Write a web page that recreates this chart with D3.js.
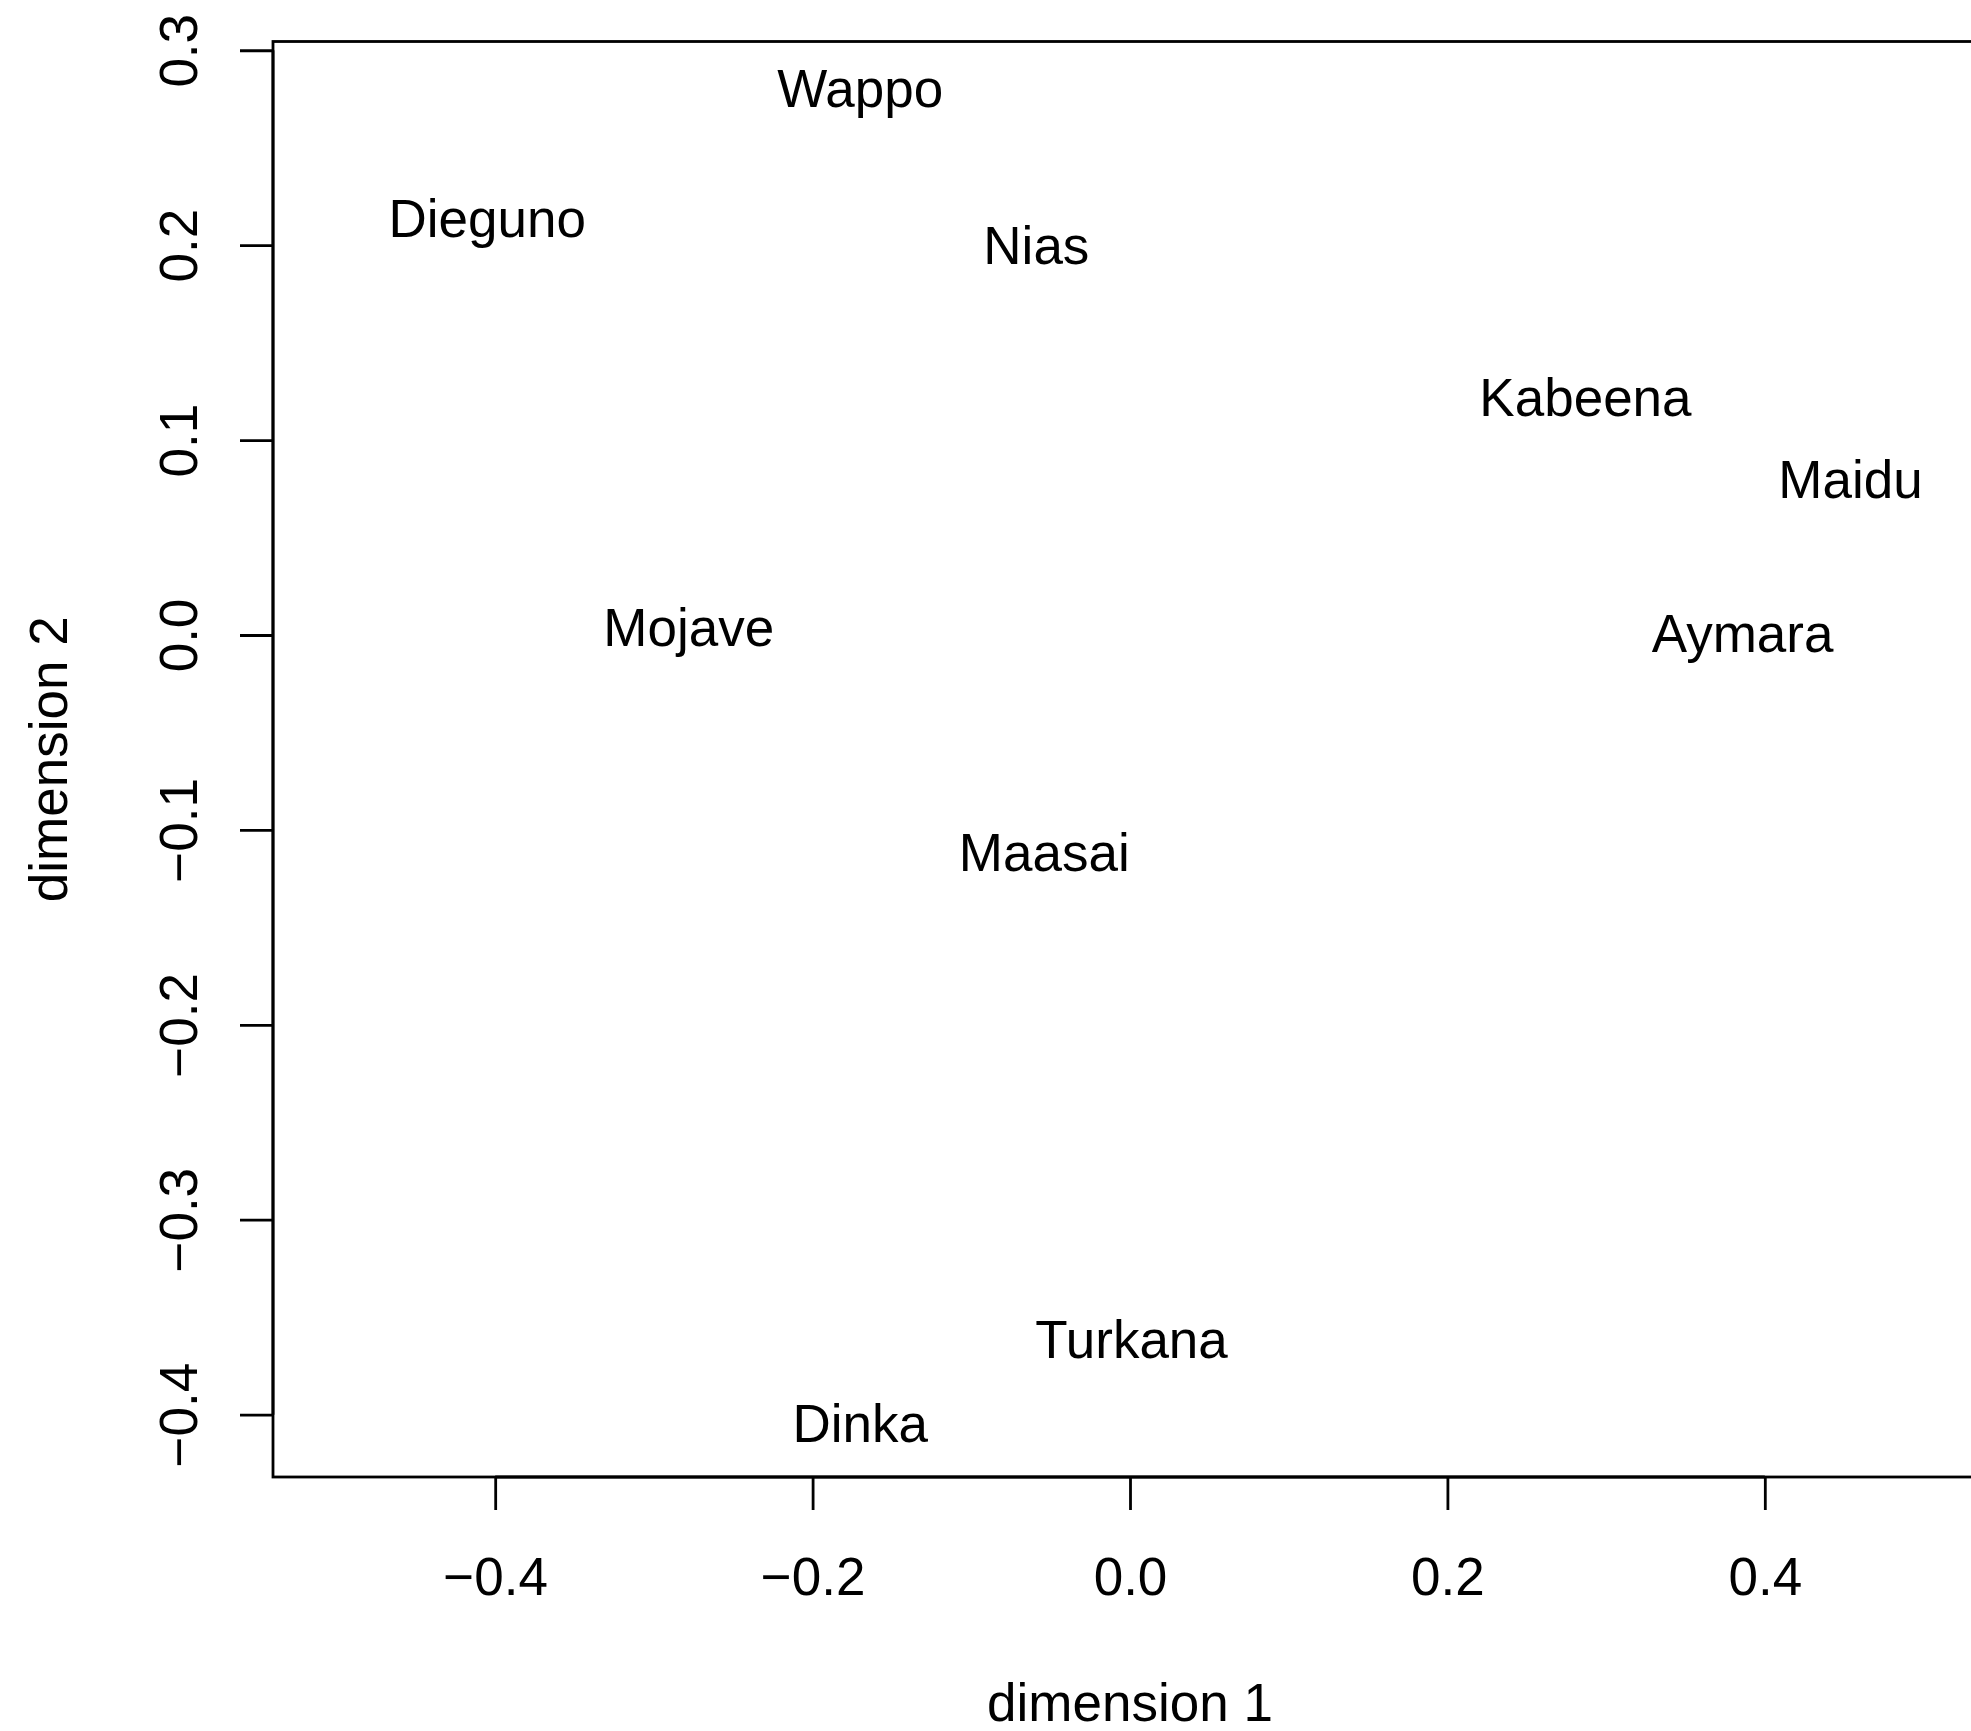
<!DOCTYPE html>
<html><head><meta charset="utf-8">
<script src="https://cdn.jsdelivr.net/npm/d3@7"></script>
<style>
html,body{margin:0;padding:0;background:#fff;}
svg text{font-family:"Liberation Sans",Arial,Helvetica,sans-serif;fill:#000;}
</style></head>
<body>
<script>
const labels = ["Wappo","Dieguno","Nias","Kabeena","Maidu","Aymara","Mojave","Maasai","Turkana","Dinka"];
const dim1 = [-0.170,-0.405,-0.059,0.287,0.454,0.386,-0.278,-0.054,0.001,-0.170];
const dim2 = [0.279,0.212,0.198,0.120,0.078,-0.001,0.002,-0.113,-0.363,-0.406];
const xTicks = [-0.4,-0.2,0.0,0.2,0.4];
const yTicks = [0.3,0.2,0.1,0.0,-0.1,-0.2,-0.3,-0.4];
const xTitle = "dimension 1", yTitle = "dimension 2";

(function(){
const W = 1971, H = 1731;
const pL = 273, pR = 1987, pT = 41.5, pB = 1477;
const fs = 53;
const svg = d3.select("body").append("svg").attr("width",W).attr("height",H);

const x = d3.scaleLinear().domain([-0.54,0.54]).range([pL,pR]);
const y = d3.scaleLinear().domain([-0.4320,0.3045]).range([pB,pT]);
const fmt = d => (d<0?"\u2212":"") + Math.abs(d).toFixed(1);

// frame
svg.append("rect").attr("x",pL).attr("y",pT).attr("width",pR-pL).attr("height",pB-pT)
  .attr("fill","none").attr("stroke","#000").attr("stroke-width",2.8);

// x axis
const xa = svg.append("g").attr("transform",`translate(0,${pB})`)
  .call(d3.axisBottom(x).tickValues(xTicks).tickSize(33).tickPadding(0).tickFormat(fmt).tickSizeOuter(0));
xa.select(".domain").attr("d",`M${x(-0.4)},0H${x(0.4)}`).attr("stroke-width",2.8);
xa.selectAll(".tick line").attr("stroke-width",2.8);
xa.selectAll(".tick text").attr("font-size",fs).attr("y",118).attr("dy",0)
  .style("font-family",'"Liberation Sans",Arial,sans-serif');

// y axis
const ya = svg.append("g").attr("transform",`translate(${pL},0)`)
  .call(d3.axisLeft(y).tickValues(yTicks).tickSize(33).tickPadding(0).tickFormat(fmt).tickSizeOuter(0));
ya.select(".domain").attr("d",`M0,${y(0.3)}V${y(-0.4)}`).attr("stroke-width",2.8);
ya.selectAll(".tick line").attr("stroke-width",2.8);
ya.selectAll(".tick text").attr("font-size",fs).attr("x",0).attr("dy",0)
  .attr("text-anchor","middle")
  .attr("transform","translate(-76,0) rotate(-90)")
  .style("font-family",'"Liberation Sans",Arial,sans-serif');

// labels
svg.append("g").selectAll("text").data(labels).join("text")
  .attr("x",(d,i)=>x(dim1[i])).attr("y",(d,i)=>y(dim2[i]))
  .attr("dy","0.29em").attr("text-anchor","middle").attr("font-size",fs).text(d=>d);

// titles
svg.append("text").attr("x",(pL+pR)/2).attr("y",1721).attr("text-anchor","middle")
  .attr("font-size",fs).text(xTitle);
svg.append("text").attr("transform",`translate(67,${(pT+pB)/2}) rotate(-90)`)
  .attr("text-anchor","middle").attr("font-size",fs).text(yTitle);
})();
</script>
</body></html>
